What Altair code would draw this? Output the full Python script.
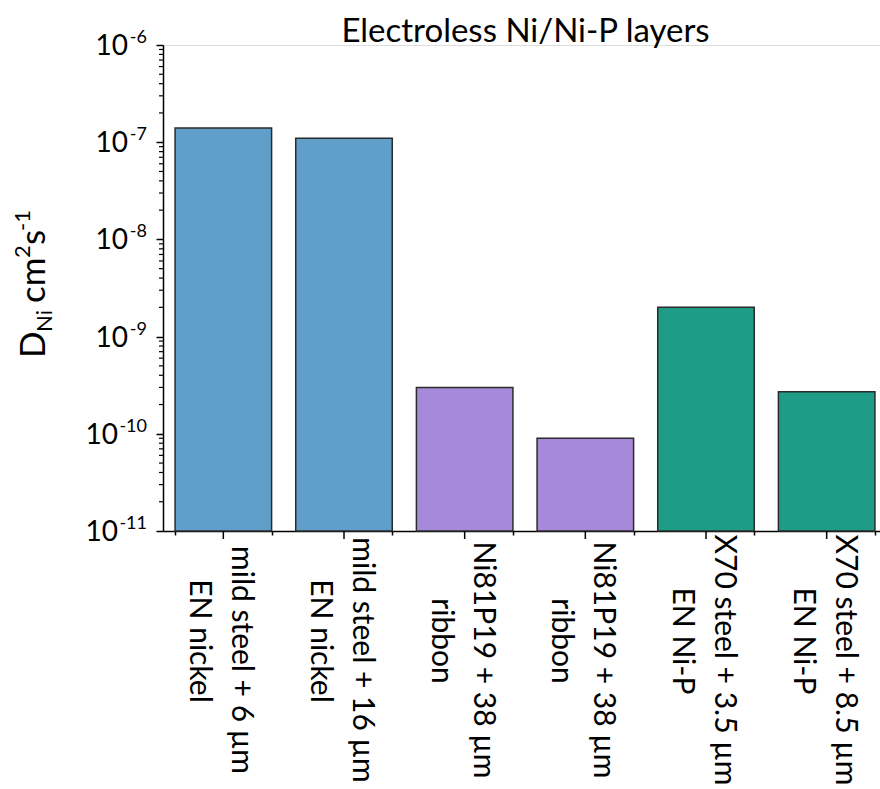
import altair as alt
import pandas as pd

# Bar categories (two label lines each), colour groups and diffusion coefficients
line1 = ["mild steel + 6 µm", "mild steel + 16 µm", "Ni81P19 + 38 µm",
         "Ni81P19 + 38 µm", "X70 steel + 3.5 µm", "X70 steel + 8.5 µm"]
line2 = ["EN nickel", "EN nickel", "ribbon", "ribbon", "EN Ni-P", "EN Ni-P"]
group = ["EN nickel", "EN nickel", "ribbon", "ribbon", "EN Ni-P", "EN Ni-P"]
d_ni = [1.4e-7, 1.1e-7, 3.0e-10, 9.0e-11, 2.0e-9, 2.7e-10]

group_names = ["EN nickel", "ribbon", "EN Ni-P"]
group_colors = ["#609FCA", "#A689D8", "#1F9C87"]

# Log axis decades and their exponent labels
decades = [1e-6, 1e-7, 1e-8, 1e-9, 1e-10, 1e-11]
exponents = ["-6", "-7", "-8", "-9", "-10", "-11"]
minor_mult = [2, 3, 4, 5, 6, 7, 8, 9]

TITLE = "Electroless Ni/Ni-P layers"
FONT = "Lato"
W, H = 717, 486
Y_MIN, Y_MAX = 1e-11, 1e-6

keys = [f"b{i}" for i in range(len(d_ni))]
bars_df = pd.DataFrame({"key": keys, "D": d_ni, "group": group,
                        "line1": line1, "line2": line2})
dec_df = pd.DataFrame({"v": decades, "exp": exponents})
minor_vals = [m * d for d in decades[1:] for m in minor_mult]
minor_df = pd.DataFrame({"v": minor_vals})
one = pd.DataFrame({"k": [0]})

x_scale = alt.Scale(domain=keys, paddingInner=0.2, paddingOuter=0.1, range=[0, 724])
x_axis = alt.Axis(
    title=None, tickBand="extent", tickSize=4, tickColor="black", tickWidth=1.5,
    domainColor="black", domainWidth=1.5, labels=False,
)
y_scale = alt.Scale(type="log", domain=[Y_MIN, Y_MAX], nice=False)
y_axis = alt.Axis(
    title=None, values=decades, labels=False, tickSize=7, tickColor="black",
    tickWidth=1.5, domainColor="black", domainWidth=1.5, grid=False,
)

X = alt.X("key:N", sort=keys, scale=x_scale, axis=x_axis)

bars = alt.Chart(bars_df).mark_bar(stroke="#2b2b2b", strokeWidth=1.5).encode(
    x=X,
    y=alt.Y("D:Q", scale=y_scale, axis=y_axis),
    y2=alt.datum(Y_MIN),
    color=alt.Color("group:N", scale=alt.Scale(domain=group_names, range=group_colors), legend=None),
)

# Major x ticks at the centre of each bar
center_ticks = alt.Chart(bars_df).mark_rule(color="black", strokeWidth=1.5).encode(
    x=X, y=alt.value(H), y2=alt.value(H + 8)
)

# Category labels, rotated to read downwards, two lines per bar
lab1 = alt.Chart(bars_df).mark_text(
    font=FONT, fontSize=30, angle=90, align="center", baseline="middle",
    dy=-18, color="black",
).encode(x=X, y=alt.value(H + 129), text="line1:N")
lab2 = alt.Chart(bars_df).mark_text(
    font=FONT, fontSize=30, angle=90, align="center", baseline="middle",
    dy=24, color="black",
).encode(x=X, y=alt.value(H + 110), text="line2:N")

# Minor log ticks on the y axis
minor_ticks = alt.Chart(minor_df).mark_rule(color="black", strokeWidth=1.2).encode(
    y=alt.Y("v:Q", scale=y_scale, axis=y_axis), x=alt.value(-4), x2=alt.value(0)
)

# Decade labels: "10" with a raised exponent
Yd = alt.Y("v:Q", scale=y_scale, axis=y_axis)
ten_short = alt.Chart(dec_df).transform_filter("length(datum.exp) == 2").mark_text(
    text="10", font=FONT, fontSize=28, align="right", baseline="alphabetic", dy=10, color="black"
).encode(y=Yd, x=alt.value(-35))
ten_long = alt.Chart(dec_df).transform_filter("length(datum.exp) == 3").mark_text(
    text="10", font=FONT, fontSize=28, align="right", baseline="alphabetic", dy=10, color="black"
).encode(y=Yd, x=alt.value(-45))
exp_text = alt.Chart(dec_df).mark_text(
    font=FONT, fontSize=18, align="right", baseline="alphabetic", dy=-2, color="black"
).encode(y=Yd, x=alt.value(-16), text="exp:N")


# Y axis title D_Ni cm^2 s^-1 assembled from rotated pieces
def piece(txt, size, dx, dy):
    return alt.Chart(one).mark_text(
        text=txt, font=FONT, fontSize=size, angle=270, align="left",
        baseline="alphabetic", dx=dx, dy=dy, color="black",
    ).encode(x=alt.value(-118), y=alt.value(313))


big, small = 35, 22
title_parts = [
    piece("D", big, 0, 0),
    piece("Ni", small, 26, 7),
    piece("cm", big, 55, 0),
    piece("2", small, 100, -15),
    piece("s", big, 113, 0),
    piece("-1", small, 127, -15),
]

# Chart title drawn above the plot area
title_mark = alt.Chart(one).mark_text(
    text=TITLE, font=FONT, fontSize=33, align="center", baseline="alphabetic", color="black"
).encode(x=alt.value(W / 2 + 4), y=alt.value(-3))

chart = alt.layer(
    bars, center_ticks, lab1, lab2, minor_ticks, ten_short, ten_long, exp_text,
    title_mark, *title_parts
).properties(
    width=W,
    height=H,
    autosize=alt.AutoSizeParams(type="none"),
    padding={"left": 163, "top": 45, "right": 0, "bottom": 258},
).configure_view(stroke=None).configure(background="white")

chart.save("out.html", embed_options={"renderer": "svg", "actions": False})
